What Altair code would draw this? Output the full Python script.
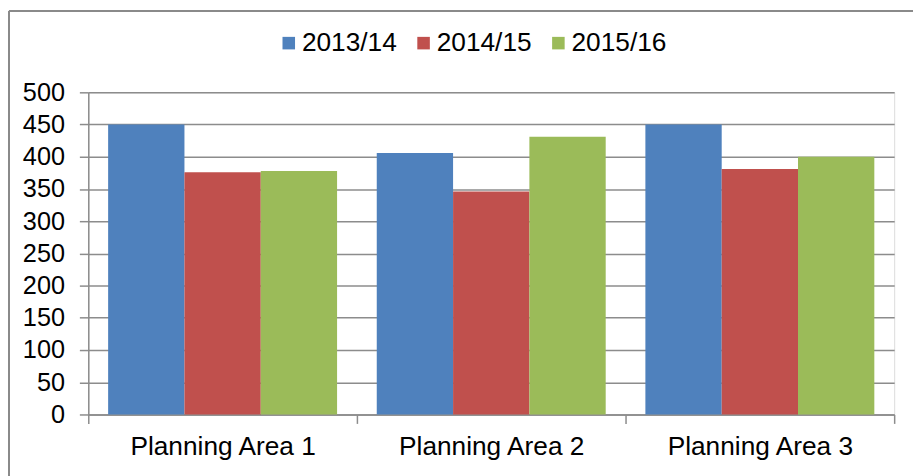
import altair as alt
import pandas as pd

areas = ["Planning Area 1", "Planning Area 2", "Planning Area 3"]
years = ["2013/14", "2014/15", "2015/16"]
v_2013 = [450, 406, 450]
v_2014 = [376, 346, 381]
v_2015 = [378, 431, 400]
colors = ["#4F81BD", "#C0504D", "#9BBB59"]

rows = []
for i, a in enumerate(areas):
    for y, vals in zip(years, [v_2013, v_2014, v_2015]):
        rows.append({"area": a, "year": y, "value": vals[i]})
df = pd.DataFrame(rows)

FONT = "Liberation Sans"
GRID = "#8c8c8c"

bars = alt.Chart(df).mark_bar().encode(
    x=alt.X("area:N", sort=areas, title=None,
            scale=alt.Scale(paddingInner=0, paddingOuter=0),
            axis=alt.Axis(labelAngle=0, tickBand="extent", tickSize=9, tickColor=GRID,
                          tickWidth=1.5, domainColor=GRID, domainWidth=1.5,
                          labelFontSize=26.5, labelPadding=10, labelColor="#000000",
                          labelFont=FONT, labelLimit=400, grid=False)),
    xOffset=alt.XOffset("year:N", sort=years,
                        scale=alt.Scale(paddingInner=0, paddingOuter=0.26)),
    y=alt.Y("value:Q", title=None,
            scale=alt.Scale(domain=[0, 500], nice=False),
            axis=alt.Axis(values=list(range(0, 501, 50)), tickSize=9, tickColor=GRID,
                          tickWidth=1.5, domainColor=GRID, domainWidth=1.5,
                          gridColor=GRID, gridWidth=1.5, labelFontSize=25.5,
                          labelPadding=15, labelColor="#000000", labelFont=FONT)),
    color=alt.Color("year:N", sort=years,
                    scale=alt.Scale(domain=years, range=colors),
                    legend=alt.Legend(title=None, orient="none", direction="horizontal",
                                      legendX=189, legendY=-63, symbolType="square",
                                      symbolSize=160, symbolStrokeWidth=0,
                                      labelFontSize=26.5, labelFont=FONT,
                                      labelColor="#000000", labelOffset=0,
                                      labelLimit=300, columnPadding=13)),
)

frame_left = alt.Chart(df).mark_rule(color="#8a8a8a", strokeWidth=2).encode(
    x=alt.value(-80), y=alt.value(-82), y2=alt.value(400))
frame_top = alt.Chart(df).mark_rule(color="#8a8a8a", strokeWidth=2).encode(
    x=alt.value(-80), x2=alt.value(840), y=alt.value(-82))

chart = alt.layer(bars, frame_left, frame_top).properties(
    width=813, height=325,
    autosize=alt.AutoSizeParams(type="none"),
    padding={"left": 81, "top": 83, "right": 19, "bottom": 60},
).configure_view(stroke=None).configure(background="white")

chart.save("out.html", embed_options={"renderer": "svg", "actions": False})
